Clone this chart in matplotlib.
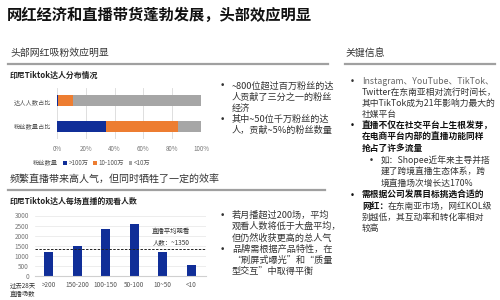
import matplotlib
matplotlib.use("Agg")
import matplotlib.pyplot as plt
import numpy as np

plt.rcParams['font.family'] = ['Noto Sans CJK SC', 'DejaVu Sans']

# data
share_cats = ["达人人数占比", "粉丝数量占比"]
share_gt100 = [1, 34]
share_mid = [10, 50]
share_lt10 = [89, 16]
share_labels = [">100万", "10-100万", "<10万"]

view_cats = [">200", "150-200", "100-150", "50-100", "10~50", "<10"]
view_vals = [1180, 1480, 2330, 2560, 1200, 550]
view_avg = 1350

BLUE = "#102e98"
ORANGE = "#ed7d31"
GRAY = "#a6a6a6"
W, H = 500, 300


def px(x, y):
    return x / W, 1 - y / H


def txt(x, y, s, size=6.3, color="#222222", weight="normal", ha="left"):
    fig.text(*px(x, y), s, fontsize=size, color=color, weight=weight,
             ha=ha, va="center")


def bullets(x, y, lines, step, size=6.3, color="#333333", weight="normal", dot=True):
    if dot:
        fig.text(*px(x - 12, y), "•", fontsize=size, color=color, ha="left",
                 va="center", family="DejaVu Sans")
    for i, line in enumerate(lines):
        txt(x, y + i * step, line, size=size, color=color, weight=weight)


fig = plt.figure(figsize=(5, 3), dpi=100)
fig.patch.set_facecolor("white")

# titles and section headers
txt(7, 15, "网红经济和直播带货蓬勃发展，头部效应明显", size=11, color="#111111", weight="bold")
txt(10, 53, "头部网红吸粉效应明显", size=7.1, color="#333333")
txt(345, 53, "关键信息", size=7.1, color="#333333")
fig.add_artist(plt.Line2D([8 / W, 328 / W], [1 - 64 / H] * 2, color="#a0a0a0", lw=1.6))
fig.add_artist(plt.Line2D([345 / W, 495 / W], [1 - 64 / H] * 2, color="#a0a0a0", lw=1.6))
txt(10, 75, "印尼Tiktok达人分布情况", size=5.7, color="#222222", weight="bold")

txt(10, 179, "频繁直播带来高人气，但同时牺牲了一定的效率", size=7.2, color="#333333")
fig.add_artist(plt.Line2D([8 / W, 325 / W], [1 - 189.5 / H] * 2, color="#a0a0a0", lw=1.6))
txt(10, 201.5, "印尼Tiktok达人每场直播的观看人数", size=5.7, color="#222222", weight="bold")

# stacked bar chart
ax1 = fig.add_axes([57 / W, 1 - 139 / H, 144 / W, 51 / H])
y = np.arange(len(share_cats))[::-1]
ax1.barh(y, share_gt100, height=0.43, color=BLUE, label=share_labels[0])
ax1.barh(y, share_mid, left=share_gt100, height=0.43, color=ORANGE, label=share_labels[1])
ax1.barh(y, share_lt10, left=np.add(share_gt100, share_mid), height=0.43, color=GRAY,
         label=share_labels[2])
ax1.set_xlim(0, 100)
ax1.set_ylim(-0.5, 1.5)
ax1.set_yticks(y)
ax1.set_yticklabels(share_cats, fontsize=4.5, color="#555555")
ax1.set_xticks(np.arange(0, 101, 20))
ax1.set_xticklabels([f"{v}%" for v in range(0, 101, 20)], fontsize=4.5, color="#777777")
ax1.grid(axis="x", color="#d9d9d9", lw=0.6)
ax1.set_axisbelow(True)
for s in ax1.spines.values():
    s.set_visible(False)
ax1.tick_params(length=0, pad=4)
txt(33, 163, "粉丝数量", size=4.5, color="#555555")
ax1.legend(loc="center left", bbox_to_anchor=px(63, 163), bbox_transform=fig.transFigure,
           ncol=3, fontsize=4.5, frameon=False, handlelength=0.6, handleheight=0.6,
           handletextpad=0.3, columnspacing=0.7, labelcolor="#555555",
           borderpad=0, borderaxespad=0)

# vertical bar chart
ax2 = fig.add_axes([34.5 / W, 1 - 276 / H, 171 / W, 60.5 / H])
xs = np.arange(len(view_cats))
ax2.bar(xs, view_vals, width=0.32, color=BLUE)
ax2.axhline(view_avg, color="#222222", lw=0.7, ls=(0, (2.5, 1.5)))
ax2.set_xlim(-0.5, len(view_cats) - 0.5)
ax2.set_ylim(0, 3000)
ax2.set_yticks(np.arange(0, 3001, 500))
ax2.tick_params(axis="y", labelsize=4.6, labelcolor="#777777", length=0, pad=4)
ax2.set_xticks(xs)
ax2.set_xticklabels(view_cats, fontsize=4.6, color="#555555")
ax2.tick_params(axis="x", length=0, pad=3.5)
ax2.grid(axis="y", color="#e6e6e6", lw=0.5)
ax2.set_axisbelow(True)
for s in ax2.spines.values():
    s.set_visible(False)
ax2.spines["bottom"].set_visible(True)
ax2.spines["bottom"].set_color("#d0d0d0")
ax2.text(4.95, view_avg + 130, "直播平均观看\n人数：~1350", fontsize=4.6, color="#333333",
         ha="right", va="bottom", linespacing=1.45)
txt(10, 285, "过去28天", size=4.6, color="#333333")
txt(10, 294, "直播场数", size=4.6, color="#333333")

# middle bullets
bullets(232, 86, ["~800位超过百万粉丝的达", "人贡献了三分之一的粉丝", "经济"], 11.2, size=6.6)
bullets(232, 119.6, ["其中~50位千万粉丝的达", "人，贡献~5%的粉丝数量"], 11.2, size=6.6)
bullets(232, 215.5, ["若月播超过200场，平均", "观看人数将低于大盘平均，", "但仍然收获更高的总人气"],
        11.2, size=6.6)
bullets(232, 249.1, ["品牌需根据产品特性，在", "“刷屏式曝光”和“质量", "型交互”中取得平衡"],
        11.2, size=6.6)

# right column
fig.text(*px(350, 81), "•", fontsize=6.3, color="#333333", va="center", family="DejaVu Sans")
txt(362, 81, "Instagram、YouTube、TikTok、", color="#666666")
bullets(362, 92.2, ["Twitter在东南亚相对流行时间长，", "其中TikTok成为21年影响力最大的", "社媒平台"],
        11.2, color="#333333", dot=False)
bullets(362, 126, ["直播不仅在社交平台上生根发芽，", "在电商平台内部的直播功能同样", "抢占了许多流量"],
        11.2, color="#111111", weight="bold")
bullets(381, 160.5, ["如：Shopee近年来主导并搭", "建了跨境直播生态体系，跨", "境直播场次增长达170%"],
        11.2, color="#333333")
bullets(362, 195, ["需根据公司发展目标挑选合适的"], 11.2, color="#111111", weight="bold")
txt(362, 206.2, "网红：", color="#111111", weight="bold")
txt(388, 206.2, "在东南亚市场，网红KOL级", color="#333333")
bullets(362, 217.4, ["别越低，其互动率和转化率相对", "较高"], 11.2, color="#333333", dot=False)

fig.savefig("out.png", dpi=100)
